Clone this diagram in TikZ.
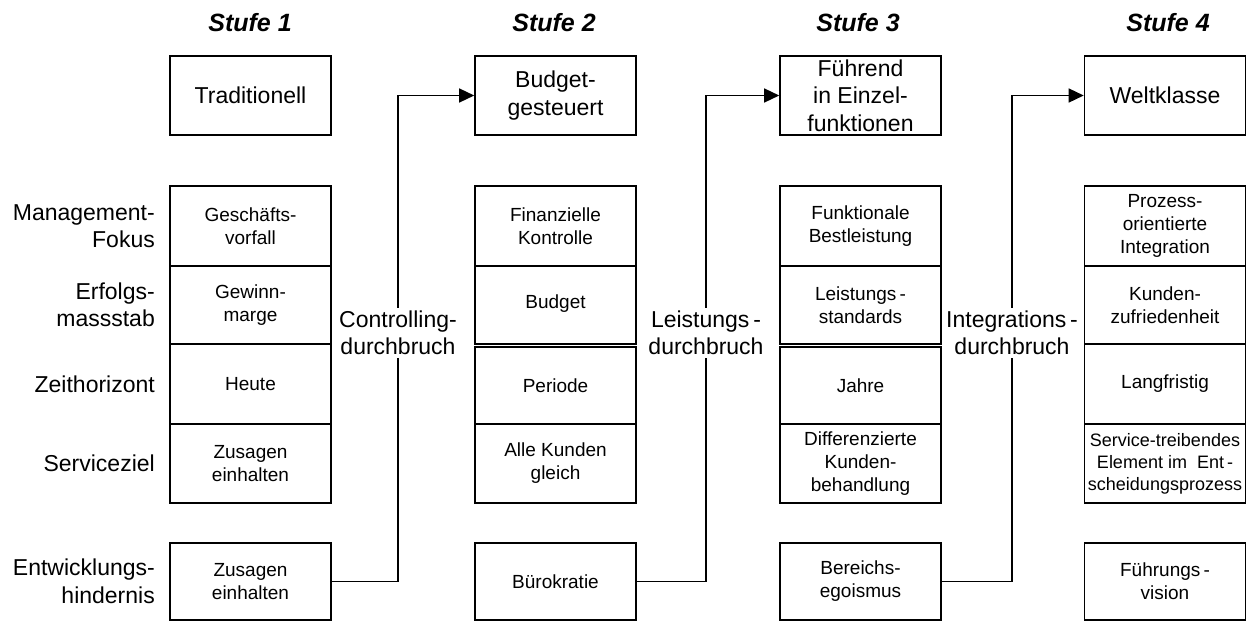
\documentclass[tikz,border=0pt]{standalone}
\usepackage{fontspec}
\setmainfont{Liberation Sans}
\usetikzlibrary{arrows.meta}

\tikzset{
  box/.style={draw, line width=1.6pt, inner sep=0pt, minimum width=161pt, align=center},
  bigtext/.style={font=\fontsize{23}{27.5}\selectfont},
  celltext/.style={font=\fontsize{19}{23}\selectfont},
  topbox/.style={box, bigtext, minimum height=79pt},
  cellbox/.style={box, celltext},
  head/.style={font=\fontsize{25}{30}\selectfont\bfseries\itshape},
  rowlab/.style={bigtext, anchor=east, align=right, inner sep=0pt},
  brk/.style={bigtext, align=center, fill=white, inner sep=3pt},
  conn/.style={line width=1.4pt, line join=miter},
  tip/.style={-{Triangle[length=15pt,width=14pt]}}
}

\begin{document}
\begin{tikzpicture}[x=1pt, y=-1pt]
\useasboundingbox (0,0) rectangle (1246,621);

% stage headings
\node[head] (s1) at (250,23) {Stufe 1};
\node[head] (s2) at (554,23) {Stufe 2};
\node[head] (s3) at (858,23) {Stufe 3};
\node[head] (s4) at (1168,23) {Stufe 4};

% stage boxes
\node[topbox] (t1) at (250.5,95.5) {Traditionell};
\node[topbox] (t2) at (555.5,95.5) {Budget-\\gesteuert};
\node[topbox] (t3) at (860.5,95.5) {Führend\\in Einzel-\\funktionen};
\node[topbox] (t4) at (1165,95.5) {Weltklasse};

% row labels
\node[rowlab] (r1) at (155,226) {Management-\\Fokus};
\node[rowlab] (r2) at (155,305) {Erfolgs-\\massstab};
\node[rowlab] (r3) at (155,384) {Zeithorizont};
\node[rowlab] (r4) at (155,463.5) {Serviceziel};
\node[rowlab] (r5) at (155,581.5) {Entwicklungs-\\hindernis};

% stage 1
\node[cellbox, minimum height=80pt] (a1) at (250.5,226) {Geschäfts-\\vorfall};
\node[cellbox, minimum height=78pt] (a2) at (250.5,305) {Gewinn-\\marge};
\node[cellbox, minimum height=80pt] (a3) at (250.5,384) {Heute};
\node[cellbox, minimum height=79pt] (a4) at (250.5,463.5) {Zusagen\\einhalten};
\node[cellbox, minimum height=77pt] (b1) at (250.5,581.5) {Zusagen\\einhalten};

% stage 2
\node[cellbox, minimum height=80pt] (c1) at (555.5,226) {Finanzielle\\Kontrolle};
\node[cellbox, minimum height=78pt] (c2) at (555.5,305) {\raisebox{6pt}{Budget}};
\node[cellbox, minimum height=77pt] (c3) at (555.5,385.5) {Periode};
\node[cellbox, minimum height=79pt] (c4) at (555.5,463.5) {Alle Kunden\\gleich};
\node[cellbox, minimum height=77pt] (b2) at (555.5,581.5) {Bürokratie};

% stage 3
\node[cellbox, minimum height=80pt] (d1) at (860.5,226) {Funktionale\\Bestleistung};
\node[cellbox, minimum height=78pt] (d2) at (860.5,305) {Leistungs\,-\\standards};
\node[cellbox, minimum height=77pt] (d3) at (860.5,385.5) {Jahre};
\node[cellbox, minimum height=79pt] (d4) at (860.5,463.5) {Differenzierte\\Kunden-\\behandlung};
\node[cellbox, minimum height=77pt] (b3) at (860.5,581.5) {Bereichs-\\egoismus};

% stage 4
\node[cellbox, minimum height=80pt] (e1) at (1165,226) {Prozess-\\orientierte\\Integration};
\node[cellbox, minimum height=78pt] (e2) at (1165,305) {Kunden-\\zufriedenheit};
\node[cellbox, minimum height=80pt] (e3) at (1165,384) {Langfristig};
\node[cellbox, minimum height=79pt, font=\fontsize{18}{22}\selectfont] (e4) at (1165,463.5) {Service-treibendes\\Element im\ \ Ent\,-\\scheidungsprozess};
\node[cellbox, minimum height=77pt] (b4) at (1165,581.5) {Führungs\,-\\vision};

% breakthrough connectors
\coordinate (k1) at (398,95.5);
\coordinate (k2) at (706,95.5);
\coordinate (k3) at (1012,95.5);
\draw[conn, tip] (b1.east) -| (k1) -- (t2.west);
\draw[conn, tip] (b2.east) -| (k2) -- (t3.west);
\draw[conn, tip] (b3.east) -| (k3) -- (t4.west);

\node[brk] (l1) at (398,333) {Controlling-\\durchbruch};
\node[brk] (l2) at (706,333) {Leistungs\,-\\durchbruch};
\node[brk] (l3) at (1012,333) {Integrations\,-\\durchbruch};
\end{tikzpicture}
\end{document}
